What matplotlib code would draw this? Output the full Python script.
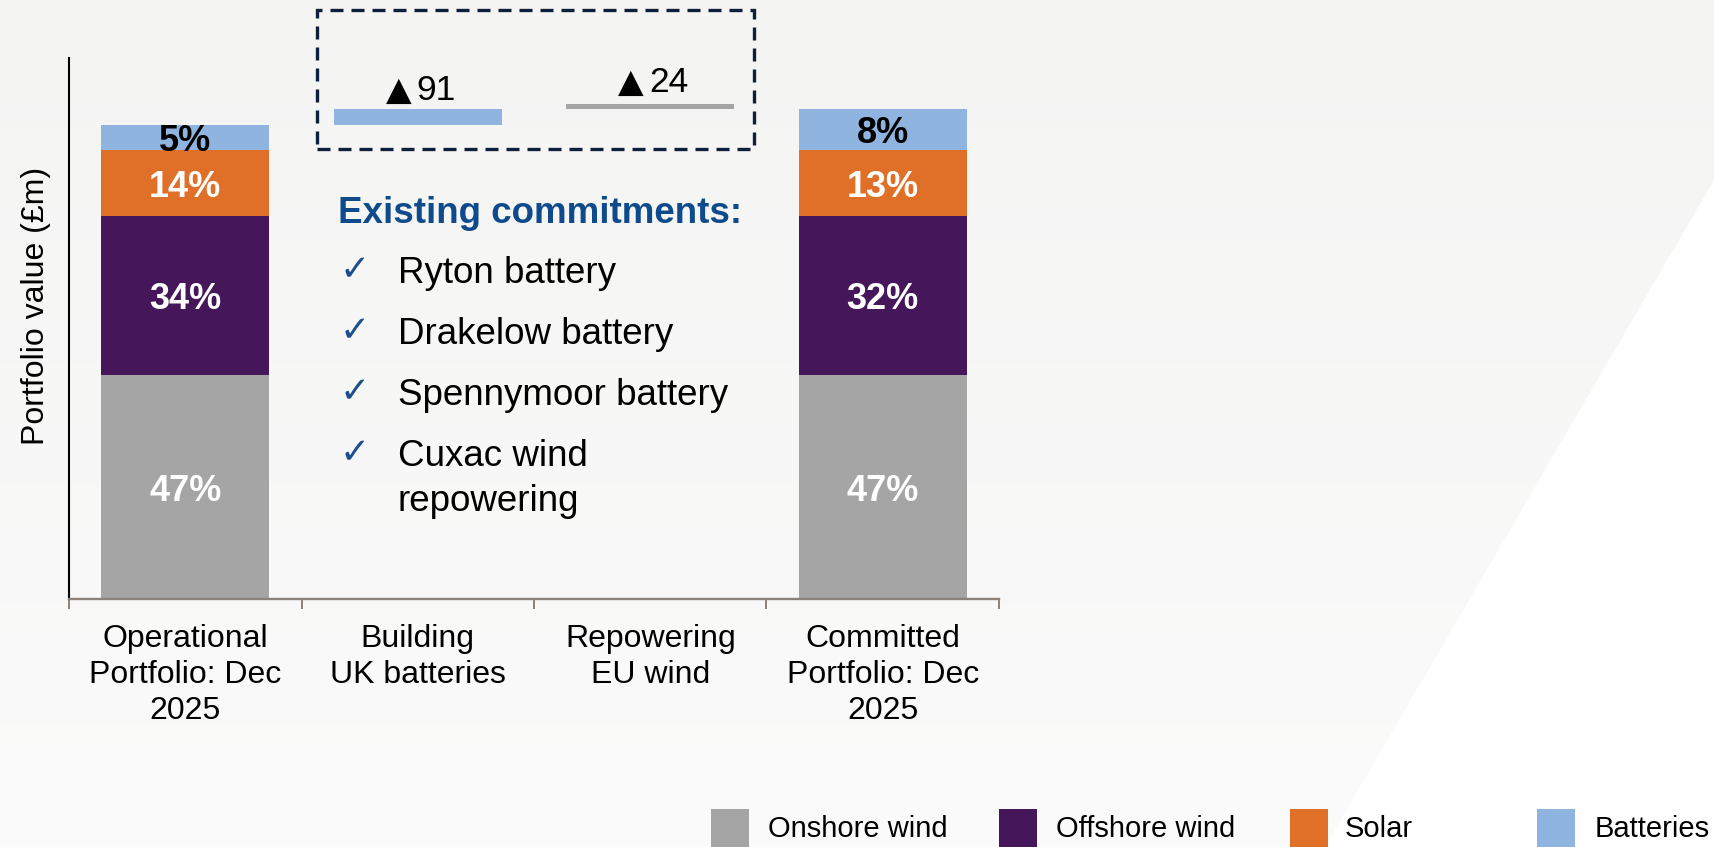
import numpy as np
import matplotlib
matplotlib.use('Agg')
import matplotlib.pyplot as plt
from matplotlib.patches import Rectangle, Polygon

plt.rcParams['font.family'] = ['Liberation Sans', 'DejaVu Sans']

# figure size in pixels
W, H = 1714, 847

# data
categories = ['Operational\nPortfolio: Dec\n2025', 'Building\nUK batteries',
              'Repowering\nEU wind', 'Committed\nPortfolio: Dec\n2025']
techs = ['Onshore wind', 'Offshore wind', 'Solar', 'Batteries']
colors = ['#a5a5a5', '#45175a', '#e07028', '#8fb4df']

operational = [1250, 890, 370, 140]
committed = [1250, 890, 370, 231]
op_labels = ['47%', '34%', '14%', '5%']
com_labels = ['47%', '32%', '13%', '8%']

steps = [91, 24]
step_colors = ['#8fb4df', '#a5a5a5']

commit_title = 'Existing commitments:'
commit_items = ['Ryton battery', 'Drakelow battery', 'Spennymoor battery',
                'Cuxac wind\nrepowering']


def fx(px):
    return px / W


def fy(py):
    return 1 - py / H


fig = plt.figure(figsize=(W / 100, H / 100), dpi=100)

# background: soft grey gradient with a white wedge bottom right
bg = fig.add_axes([0, 0, 1, 1], zorder=-5)
grad = np.linspace(0, 1, 256)[:, None, None]
top_c = np.array([244, 244, 243]) / 255
bot_c = np.array([251, 251, 251]) / 255
img = top_c + (bot_c - top_c) * grad
bg.imshow(img, aspect='auto', extent=[0, 1, 0, 1], origin='upper')
bg.add_patch(Polygon([(1, fy(180)), (1, 0), (fx(1325), 0)], closed=True,
                     facecolor='white', edgecolor='none'))
bg.set_xlim(0, 1)
bg.set_ylim(0, 1)
bg.axis('off')

# main axes
ax = fig.add_axes([fx(69), fy(599), fx(999 - 69), (599 - 58) / H])
ax.set_facecolor('none')
bw = 0.7226

for xi, vals, labs in zip([0, 3], [operational, committed], [op_labels, com_labels]):
    base = 0
    for j, (v, c, lab) in enumerate(zip(vals, colors, labs)):
        ax.bar(xi, v, bw, bottom=base, color=c, linewidth=0)
        ax.text(xi, base + v / 2, lab, ha='center', va='center_baseline', fontsize=26,
                fontweight='bold', color='black' if j == 3 else 'white')
        base += v

# waterfall steps
start = sum(operational)
offs = [6.5, 9]
for k, (s, c) in enumerate(zip(steps, step_colors)):
    ax.bar(k + 1, s, bw, bottom=start, color=c, linewidth=0)
    ax.annotate('▲', (k + 1, start + s), xytext=(-4.5, offs[k]),
                textcoords='offset points', ha='right', va='baseline',
                fontsize=24, family='DejaVu Sans', annotation_clip=False)
    ax.annotate(str(s), (k + 1, start + s), xytext=(-1, offs[k]),
                textcoords='offset points', ha='left', va='baseline',
                fontsize=25.5, annotation_clip=False)
    start += s

ax.set_xlim(-0.5, 3.5)
ax.set_ylim(0, 3025)
ax.set_xticks(range(4))
ax.set_xticklabels(categories, fontsize=23, linespacing=1.25)
ax.tick_params(axis='x', which='major', length=0, pad=18)
ax.set_xticks([-0.5, 0.5, 1.5, 2.5, 3.5], minor=True)
ax.tick_params(axis='x', which='minor', length=7.2, width=1.4,
               color='#8c8279', direction='out')
ax.set_yticks([])
for sp in ['top', 'right']:
    ax.spines[sp].set_visible(False)
ax.spines['left'].set_color('black')
ax.spines['left'].set_linewidth(1.5)
ax.spines['bottom'].set_color('#8c8279')
ax.spines['bottom'].set_linewidth(1.7)

fig.text(fx(36), fy(306), 'Portfolio value (£m)', rotation=90,
         ha='center', va='center', fontsize=23)

# dashed box around the steps
fig.add_artist(Rectangle((fx(317), fy(149)), fx(754 - 317), (149 - 10) / H,
                         transform=fig.transFigure, fill=False,
                         edgecolor='#0d1f3a', linewidth=2.4,
                         linestyle=(0, (3.9, 2.4))))

# commitments list
fig.text(fx(338), fy(223), commit_title, fontsize=26.5, fontweight='bold',
         color='#0f4b8c', va='baseline')
for item, b in zip(commit_items, [283, 344, 405, 466]):
    fig.text(fx(340), fy(b - 3), '✓', fontsize=26, color='#1f4e8c',
             family='DejaVu Sans', va='baseline')
    for n, line in enumerate(item.split('\n')):
        fig.text(fx(398), fy(b + 45 * n), line, fontsize=26.5, va='baseline')

# legend (drawn by hand, partly clipped at the bottom like the original)
for name, c, sx, tx in zip(techs, colors, [711, 999, 1290, 1537],
                           [768, 1056, 1345, 1595]):
    fig.add_artist(Rectangle((fx(sx), fy(860)), fx(38), 51 / H,
                             transform=fig.transFigure, facecolor=c,
                             edgecolor='none'))
    fig.text(fx(tx), fy(837), name, fontsize=21, va='baseline')

fig.savefig('out.png', dpi=100)
